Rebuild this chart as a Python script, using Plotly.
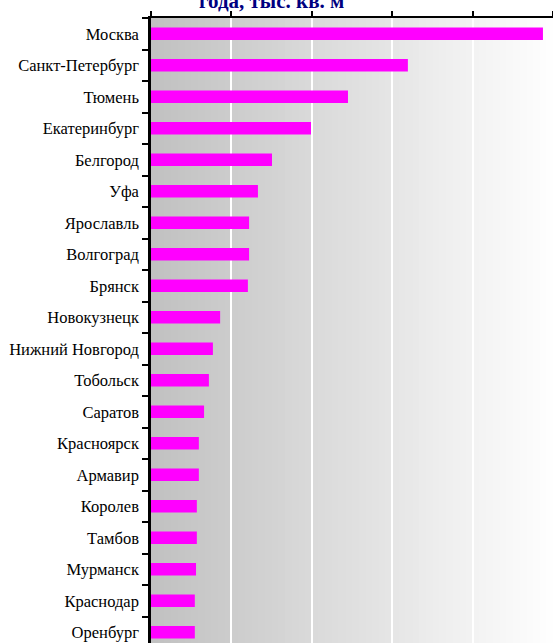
import plotly.graph_objects as go

cities = ["Москва", "Санкт-Петербург", "Тюмень", "Екатеринбург", "Белгород", "Уфа",
          "Ярославль", "Волгоград", "Брянск", "Новокузнецк", "Нижний Новгород", "Тобольск",
          "Саратов", "Красноярск", "Армавир", "Королев", "Тамбов", "Мурманск", "Краснодар",
          "Оренбург"]
values = [975, 639, 490, 398, 301, 266, 244, 244, 241, 172, 154, 144, 132, 119, 119,
          114, 114, 112, 109, 109]
title_text = "года, тыс. кв. м"

W, H = 553, 643
ML, MT = 151, 18
PW = W - ML

fig = go.Figure()
fig.add_trace(go.Bar(
    x=values, y=cities, orientation="h",
    marker=dict(color="#ff00ff", line=dict(width=0)),
    width=0.4,
))

# gradient background strips
shapes = []
n = 60
for i in range(n):
    c = int(round(192 + 63 * (i + 0.5) / n))
    shapes.append(dict(type="rect", xref="paper", yref="paper",
                       x0=i / n, x1=(i + 1) / n + 0.002, y0=0, y1=1,
                       fillcolor=f"rgb({c},{c},{c})", line=dict(width=0), layer="below"))

fig.update_layout(
    width=W, height=H,
    margin=dict(l=ML, r=0, t=MT, b=0, pad=0),
    paper_bgcolor="white", plot_bgcolor="rgba(0,0,0,0)",
    showlegend=False,
    shapes=shapes,
    bargap=0.6,
    font=dict(family="Liberation Serif, Times New Roman, serif", color="black"),
    annotations=[dict(text=f"<b>{title_text}</b>", xref="paper", yref="paper",
                      x=(271 - ML) / PW, y=1, yanchor="bottom", xanchor="center",
                      yshift=3, showarrow=False,
                      font=dict(family="Liberation Serif, Times New Roman, serif",
                                size=21, color="#000080"))],
)
fig.update_xaxes(
    side="top", range=[0, 1000], dtick=200, tick0=0,
    showticklabels=False, ticks="outside", ticklen=5, tickwidth=2, tickcolor="black",
    showline=True, linecolor="black", linewidth=2,
    showgrid=True, gridcolor="white", gridwidth=2, zeroline=False,
)
fig.update_yaxes(
    type="category", categoryorder="array", categoryarray=cities,
    range=[19.34, -0.5], tickson="boundaries",
    ticks="outside", ticklen=6, tickwidth=2, tickcolor="black",
    showline=True, linecolor="black", linewidth=2.5,
    showgrid=False, zeroline=False, ticklabelstandoff=6,
    tickfont=dict(family="Liberation Serif, Times New Roman, serif", size=16.5, color="black"),
)
fig.write_html("out.html",
               config={"displayModeBar": False},
               post_script="document.body.style.margin='0';document.body.style.overflow='hidden';")
